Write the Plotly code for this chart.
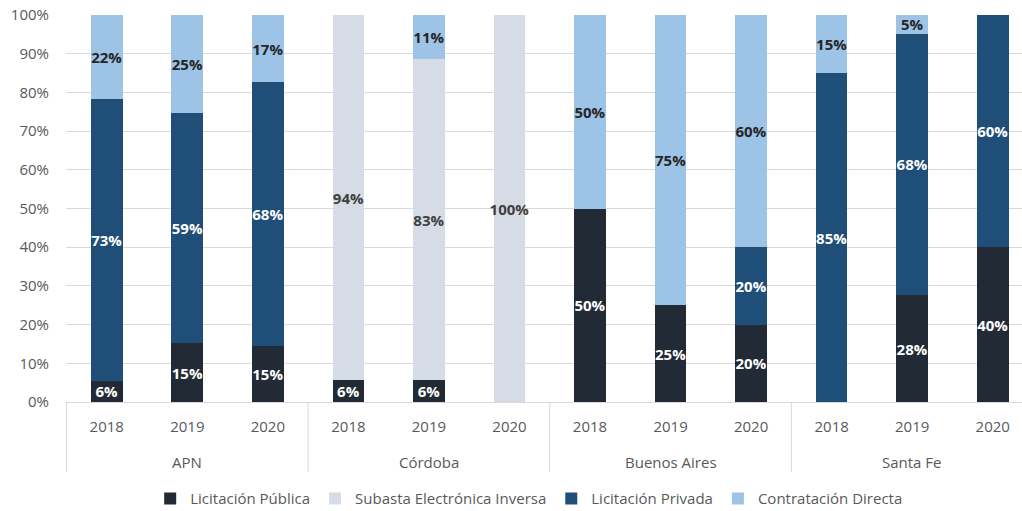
import plotly.graph_objects as go

group_names = ["APN", "Córdoba", "Buenos Aires", "Santa Fe"]
year_names = ["2018", "2019", "2020"]
groups = [g for g in group_names for _ in year_names]
years = year_names * len(group_names)
keys = [f"{g} {y}" for g, y in zip(groups, years)]

publica = [5.5, 15.2, 14.6, 5.6, 5.6, 0, 50, 25, 20, 0, 27.6, 40]
subasta = [0, 0, 0, 94.4, 83.0, 100, 0, 0, 0, 0, 0, 0]
privada = [72.7, 59.4, 68.0, 0, 0, 0, 0, 0, 20, 85, 67.6, 60]
directa = [21.8, 25.4, 17.4, 0, 11.4, 0, 50, 75, 60, 15, 4.8, 0]

series = [
    ("Licitación Pública", publica, "#222a35", "white"),
    ("Subasta Electrónica Inversa", subasta, "#d6dce5", "#404040"),
    ("Licitación Privada", privada, "#1f4e79", "white"),
    ("Contratación Directa", directa, "#9dc3e6", "#262626"),
]

FONT = "Open Sans, sans-serif"
GRID = "#d9d9d9"
TXT = "#595959"

fig = go.Figure()
for name, vals, color, tcolor in series:
    fig.add_trace(go.Bar(
        name=name,
        x=keys,
        y=vals,
        marker=dict(color=color, line=dict(width=0)),
        text=[f"{round(v)}%" if v > 0 else "" for v in vals],
        textposition="inside",
        insidetextanchor="middle",
        textangle=0,
        textfont=dict(family=FONT, size=15, color=tcolor, weight="bold"),
    ))

# group labels and dividers of the two-level category axis
n = len(year_names)
for gi, g in enumerate(group_names):
    mid_key = keys[gi * n + n // 2]
    fig.add_annotation(
        x=mid_key, xref="x", y=-0.155, yref="paper",
        text=g, showarrow=False, yanchor="middle",
        font=dict(family=FONT, size=15, color=TXT),
    )
    fig.add_shape(
        type="line", xref="x", yref="paper",
        x0=gi * n - 0.5, x1=gi * n - 0.5, y0=0, y1=-0.181,
        line=dict(color=GRID, width=1),
    )

fig.update_layout(
    barmode="stack",
    bargap=0.607,
    width=1040,
    height=511,
    margin=dict(l=66, r=7, t=15, b=109, autoexpand=False),
    plot_bgcolor="white",
    paper_bgcolor="white",
    font=dict(family=FONT, size=15, color=TXT),
    uniformtext=dict(minsize=15, mode="show"),
    showlegend=True,
    legend=dict(
        orientation="h",
        x=0.479, xanchor="center",
        y=-0.25, yanchor="middle",
        font=dict(family=FONT, size=15, color=TXT),
        itemwidth=30,
        traceorder="normal",
    ),
    xaxis=dict(
        type="category",
        automargin=False,
        showline=True,
        linecolor=GRID,
        linewidth=1,
        tickmode="array",
        tickvals=keys,
        ticktext=years,
        tickfont=dict(family=FONT, size=15, color=TXT),
        ticks="",
        ticklabelstandoff=11,
    ),
    yaxis=dict(
        automargin=False,
        range=[0, 100],
        dtick=10,
        ticksuffix="%",
        showgrid=True,
        gridcolor=GRID,
        gridwidth=1,
        zeroline=False,
        showline=False,
        ticks="",
        ticklabelstandoff=16,
        tickfont=dict(family=FONT, size=15, color=TXT),
    ),
)

fig.write_html(
    "out.html",
    config={"displayModeBar": False},
    post_script="document.body.style.margin='0';document.body.style.overflow='hidden';",
)
